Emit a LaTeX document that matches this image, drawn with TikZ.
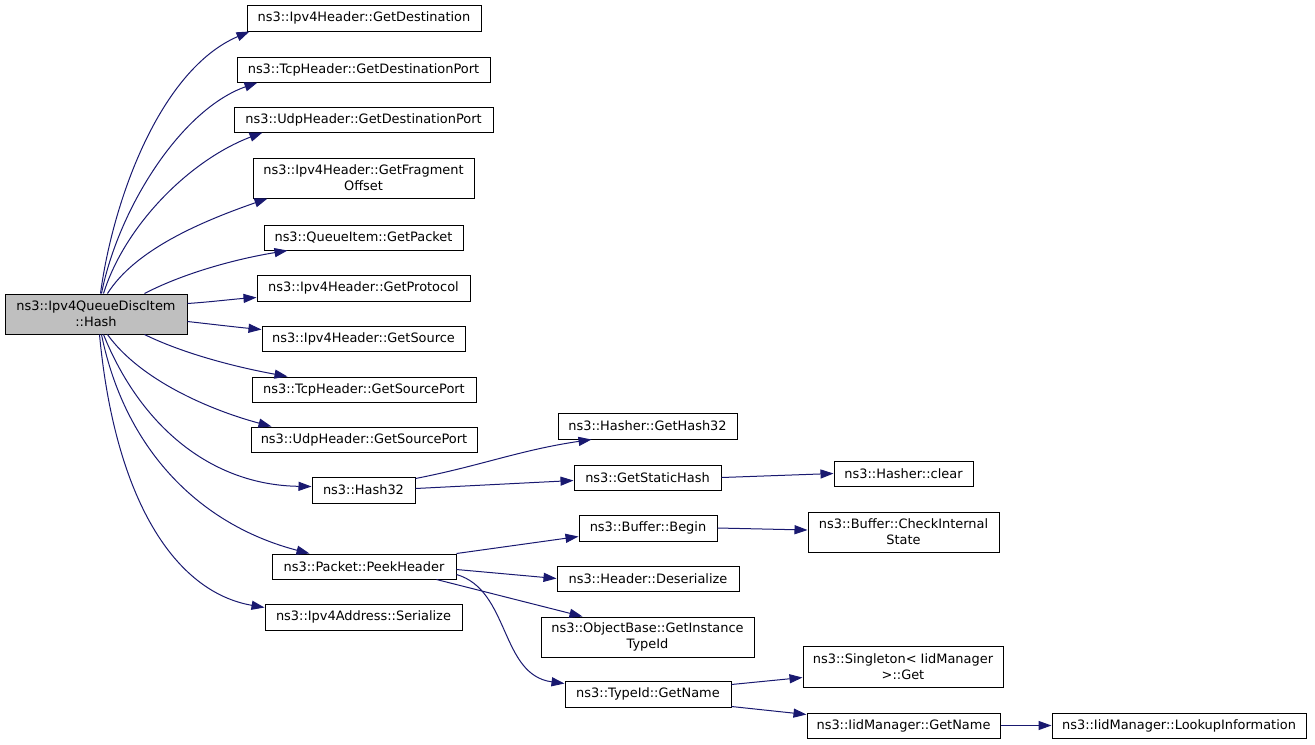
\documentclass[tikz,border=0pt]{standalone}
\usepackage{fontspec}
\setmainfont{DejaVu Sans}
\usetikzlibrary{arrows.meta,calc}
\definecolor{edgecol}{HTML}{191970}
\definecolor{rootfill}{HTML}{BFBFBF}
\newcommand\mkbox[7][]{\node[box,#1,minimum width={(#5-#3)*0.75pt},minimum height={(#6-#4)*0.75pt}] (#2) at ({(#3+#5)/2},{(#4+#6)/2}) {#7};}
\begin{document}
\begin{tikzpicture}[x=0.75pt,y=-0.75pt,
  box/.style={draw=black,line width=0.75pt,fill=white,inner sep=0pt,align=center,font=\fontsize{9.7pt}{12pt}\selectfont},
  rootbox/.style={fill=rootfill},
  edge/.style={draw=edgecol,line width=0.75pt,-{Triangle[length=9.75pt,width=6.8pt]}}]
\useasboundingbox (0,0) rectangle (1315,744);
% boxes
\mkbox[rootbox]{root}{5}{294}{187}{334}{ns3::Ipv4QueueDiscItem\\::Hash}
\mkbox{dest}{247}{5}{481}{31}{ns3::Ipv4Header::GetDestination}
\mkbox{tdp}{237}{57}{490}{82}{ns3::TcpHeader::GetDestinationPort}
\mkbox{udp}{234}{107}{493}{132}{ns3::UdpHeader::GetDestinationPort}
\mkbox{frag}{253}{158}{474}{198}{ns3::Ipv4Header::GetFragment\\Offset}
\mkbox{pkt}{264}{225}{463}{250}{ns3::QueueItem::GetPacket}
\mkbox{proto}{257}{275}{470}{301}{ns3::Ipv4Header::GetProtocol}
\mkbox{src}{262}{326}{465}{351}{ns3::Ipv4Header::GetSource}
\mkbox{tsp}{252}{377}{476}{402}{ns3::TcpHeader::GetSourcePort}
\mkbox{usp}{251}{427}{477}{452}{ns3::UdpHeader::GetSourcePort}
\mkbox{hash}{312}{477}{415}{503}{ns3::Hash32}
\mkbox{peek}{272}{554}{456}{579}{ns3::Packet::PeekHeader}
\mkbox{ser}{265}{604}{462}{630}{ns3::Ipv4Address::Serialize}
\mkbox{gh}{558}{413}{737}{439}{ns3::Hasher::GetHash32}
\mkbox{gsh}{574}{465}{721}{490}{ns3::GetStaticHash}
\mkbox{clr}{834}{461}{973}{486}{ns3::Hasher::clear}
\mkbox{beg}{579}{515}{717}{541}{ns3::Buffer::Begin}
\mkbox{cis}{808}{512}{999}{552}{ns3::Buffer::CheckInternal\\State}
\mkbox{des}{557}{566}{739}{591}{ns3::Header::Deserialize}
\mkbox{git}{541}{617}{754}{657}{ns3::ObjectBase::GetInstance\\TypeId}
\mkbox{tgn}{565}{681}{731}{707}{ns3::TypeId::GetName}
\mkbox{sgl}{803}{646}{1003}{687}{ns3::Singleton< IidManager\\>::Get}
\mkbox{igm}{807}{713}{1000}{738}{ns3::IidManager::GetName}
\mkbox{lki}{1052}{713}{1306}{738}{ns3::IidManager::LookupInformation}
% edges from root
\draw[edge] ($(root.north west)+(96,0)$) .. controls (113,200) and (160,70) .. ($(dest.south west)+(3,0)$);
\draw[edge] ($(root.north west)+(97,0)$) .. controls (118,210) and (180,110) .. ($(tdp.south west)+(21,0)$);
\draw[edge] ($(root.north west)+(99,0)$) .. controls (125,225) and (190,160) .. ($(udp.south west)+(29,0)$);
\draw[edge] ($(root.north west)+(103,0)$) .. controls (135,250) and (200,222) .. ($(frag.south west)+(15,0)$);
\draw[edge] ($(root.north west)+(140,0)$) .. controls (180,275) and (230,260) .. ($(pkt.south west)+(24,0)$);
\draw[edge] ($(root.north east)+(0,10)$) .. controls (210,302) and (235,299) .. ($(proto.north west)+(0,23)$);
\draw[edge] ($(root.north east)+(0,28)$) .. controls (210,324) and (235,327) .. ($(src.north west)+(0,4)$);
\draw[edge] ($(root.south west)+(140,0)$) .. controls (180,352) and (230,366) .. ($(tsp.north west)+(36,0)$);
\draw[edge] ($(root.south west)+(103,0)$) .. controls (140,380) and (210,410) .. ($(usp.north west)+(21,0)$);
\draw[edge] ($(root.south west)+(99,0)$) .. controls (140,425) and (210,485) .. ($(hash.north west)+(0,10)$);
\draw[edge] ($(root.south west)+(97,0)$) .. controls (125,450) and (200,525) .. ($(peek.north west)+(38,0)$);
\draw[edge] ($(root.south west)+(95,0)$) .. controls (115,500) and (175,592) .. ($(ser.north west)+(0,4)$);
% second level
\draw[edge] ($(hash.north east)+(0,2)$) .. controls (480,466) and (520,450) .. ($(gh.south west)+(34,0)$);
\draw[edge] ($(hash.north east)+(0,12)$) -- ($(gsh.north west)+(0,16)$);
\draw[edge] (gsh.east) -- (clr.west);
\draw[edge] (peek.north east) -- ($(beg.north west)+(0,22)$);
\draw[edge] (beg.east) -- ($(cis.west)+(0,-2)$);
\draw[edge] ($(peek.north east)+(0,16)$) -- (des.west);
\draw[edge] ($(peek.south west)+(165,0)$) -- ($(git.north west)+(42,0)$);
\draw[edge] ($(peek.north east)+(0,21)$) .. controls (510,590) and (500,675) .. ($(tgn.north west)+(0,3)$);
\draw[edge] ($(tgn.north east)+(0,4)$) -- ($(sgl.south west)+(0,-10)$);
\draw[edge] ($(tgn.south east)+(0,-1)$) -- ($(igm.north west)+(0,2)$);
\draw[edge] (igm.east) -- (lki.west);
\end{tikzpicture}
\end{document}
